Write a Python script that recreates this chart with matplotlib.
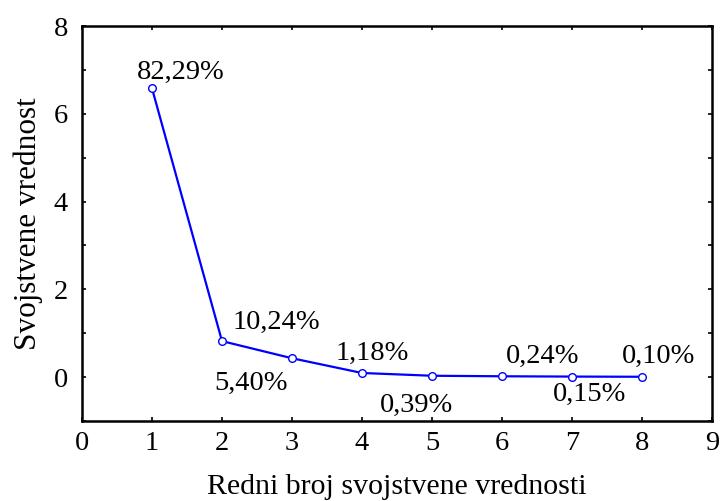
import matplotlib
matplotlib.use("Agg")
import matplotlib.pyplot as plt
from matplotlib.ticker import MultipleLocator

# data
components = [1, 2, 3, 4, 5, 6, 7, 8]
eigenvalues = [6.58, 0.82, 0.43, 0.094, 0.031, 0.019, 0.012, 0.008]
labels = ["82,29%", "10,24%", "5,40%", "1,18%", "0,39%", "0,24%", "0,15%", "0,10%"]
label_pos = [(1.41, 6.95), (2.77, 1.25), (2.42, -0.14), (4.14, 0.55),
             (4.78, -0.64), (6.58, 0.48), (7.25, -0.39), (8.24, 0.48)]
xticks = [0, 1, 2, 3, 4, 5, 6, 7, 8, 9]
yticks = [0, 2, 4, 6, 8]

plt.rcParams['font.family'] = ['Liberation Serif', 'DejaVu Serif']

fig = plt.figure(figsize=(7.24, 5.01), dpi=100)
ax = fig.add_axes([82/724, 1 - 421/501, (712 - 82)/724, (421 - 26)/501])

ax.plot(components, eigenvalues, color='#0000ff', lw=1.6, marker='o',
        markersize=5.5, markerfacecolor='white', markeredgecolor='#0000ff',
        markeredgewidth=1.0, zorder=3)

for lab, (x, y) in zip(labels, label_pos):
    ax.text(x, y, lab, fontsize=20.5, ha='center', va='center')

ax.set_xlim(0, 9)
ax.set_ylim(-1, 8)
ax.set_xticks(xticks)
ax.set_yticks(yticks)
ax.yaxis.set_minor_locator(MultipleLocator(1))
ax.tick_params(axis='both', which='major', direction='in', length=3, width=1.2,
               labelsize=20.5, top=True, right=True, pad=7)
ax.tick_params(axis='y', which='major', pad=10)
ax.tick_params(axis='y', which='minor', direction='in', length=3, width=1.2,
               right=True)
for s in ax.spines.values():
    s.set_linewidth(1.8)

ax.set_xlabel("Redni broj svojstvene vrednosti", fontsize=21.5, labelpad=13)
ax.set_ylabel("Svojstvene vrednost", fontsize=22.5, labelpad=8)

fig.savefig("out.png", dpi=100)
